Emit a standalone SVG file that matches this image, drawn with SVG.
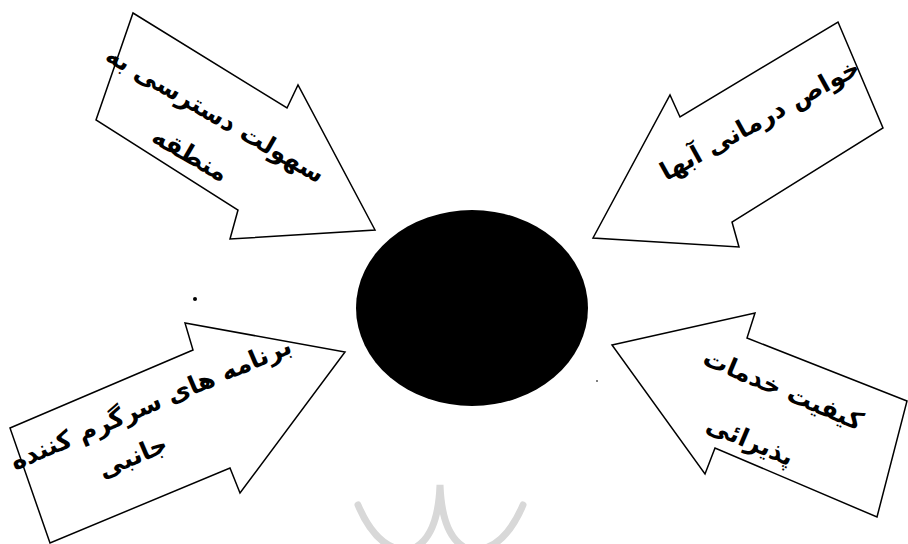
<svg xmlns="http://www.w3.org/2000/svg" width="908" height="544" viewBox="0 0 908 544">
<style>
.arrow{fill:#fff;stroke:#000;stroke-width:1.5;stroke-linejoin:miter}
.lbl{font-family:"DejaVu Sans",sans-serif;font-weight:bold;font-size:25px;fill:#000;text-anchor:middle}
</style>
<rect width="908" height="544" fill="#fff"/>
<g id="watermark" fill="none" stroke="#d8d8d8" stroke-width="7" stroke-linecap="round">
<path d="M358,505 Q378,552 410,550 Q438,540 440,485 Q442,540 470,550 Q503,552 523,505"/>
</g>
<g id="center">
<ellipse cx="472" cy="308" rx="116" ry="98" fill="#000"/>
</g>
<g id="connectors">
<g id="arrow-access">
<polygon class="arrow" points="133,13 287,108 298,85 375,230 230,239 238,210 96,120"/>
<text class="lbl" transform="translate(215,115) rotate(30)" dy="8">سهولت دسترسی به</text>
<text class="lbl" transform="translate(190,155) rotate(30)" dy="8">منطقه</text>
</g>
<g id="arrow-therapy">
<polygon class="arrow" points="838,22 883,128 732,222 739,247 593,238 670,95 680,117"/>
<text class="lbl" transform="translate(760,120) rotate(-29)" dy="8">خواص درمانی آبها</text>
</g>
<g id="arrow-entertainment">
<polygon class="arrow" points="10,428 193,350 185,323 345,352 240,493 230,468 50,543"/>
<text class="lbl" transform="translate(151,404) rotate(-23)" dy="8" font-size="24">برنامه های سرگرم کننده</text>
<text class="lbl" transform="translate(133,457) rotate(-23)" dy="8">جانبی</text>
</g>
<g id="arrow-service">
<polygon class="arrow" points="612,345 755,313 747,338 907,401 877,517 715,448 705,474"/>
<text class="lbl" transform="translate(783,390) rotate(23)" dy="8">کیفیت خدمات</text>
<text class="lbl" transform="translate(750,441) rotate(23)" dy="8">پذیرائی</text>
</g>
</g>
<circle cx="195" cy="299" r="2" fill="#000"/>
<circle cx="597" cy="381" r="1" fill="#555"/>
</svg>
